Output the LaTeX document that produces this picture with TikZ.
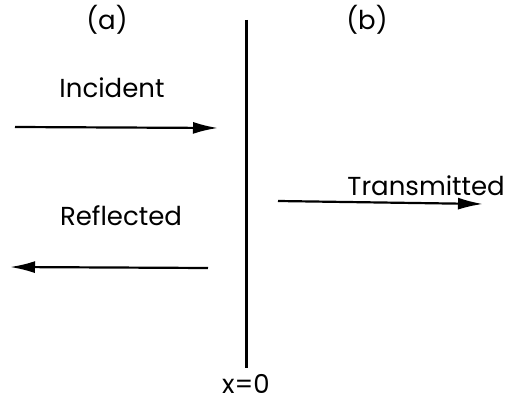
\documentclass[tikz,border=0pt]{standalone}
\usepackage{fontspec}
\setmainfont{Poppins}
\usetikzlibrary{arrows.meta}
\begin{document}
\begin{tikzpicture}[x=1pt,y=-1pt,
  lbl/.style={font=\fontsize{26}{30}\selectfont, inner sep=0pt},
  ray/.style={line width=2.2pt, -{Latex[length=25pt,width=12pt]}},
  wall/.style={line width=3pt}]
\useasboundingbox (0,0) rectangle (507,404);
\coordinate (top) at (246,20);
\coordinate (bot) at (246,368);
\draw[wall] (top) -- (bot);
\node[lbl] (xo) at (246,384) {x=0};
\node[lbl] (la) at (107,20) {(a)};
\node[lbl] (lb) at (367,20) {(b)};
\node[lbl] (inc) at (112,88) {Incident};
\node[lbl] (ref) at (121,216) {Reflected};
\node[lbl, anchor=east] (tra) at (505,186) {Transmitted};
\coordinate (i1) at (15,127);
\coordinate (i2) at (218,128);
\coordinate (r1) at (208,268);
\coordinate (r2) at (10,267);
\coordinate (t1) at (278,201);
\coordinate (t2) at (483,204);
\draw[ray] (i1) -- (i2);
\draw[ray] (r1) -- (r2);
\draw[ray] (t1) -- (t2);
\end{tikzpicture}
\end{document}
